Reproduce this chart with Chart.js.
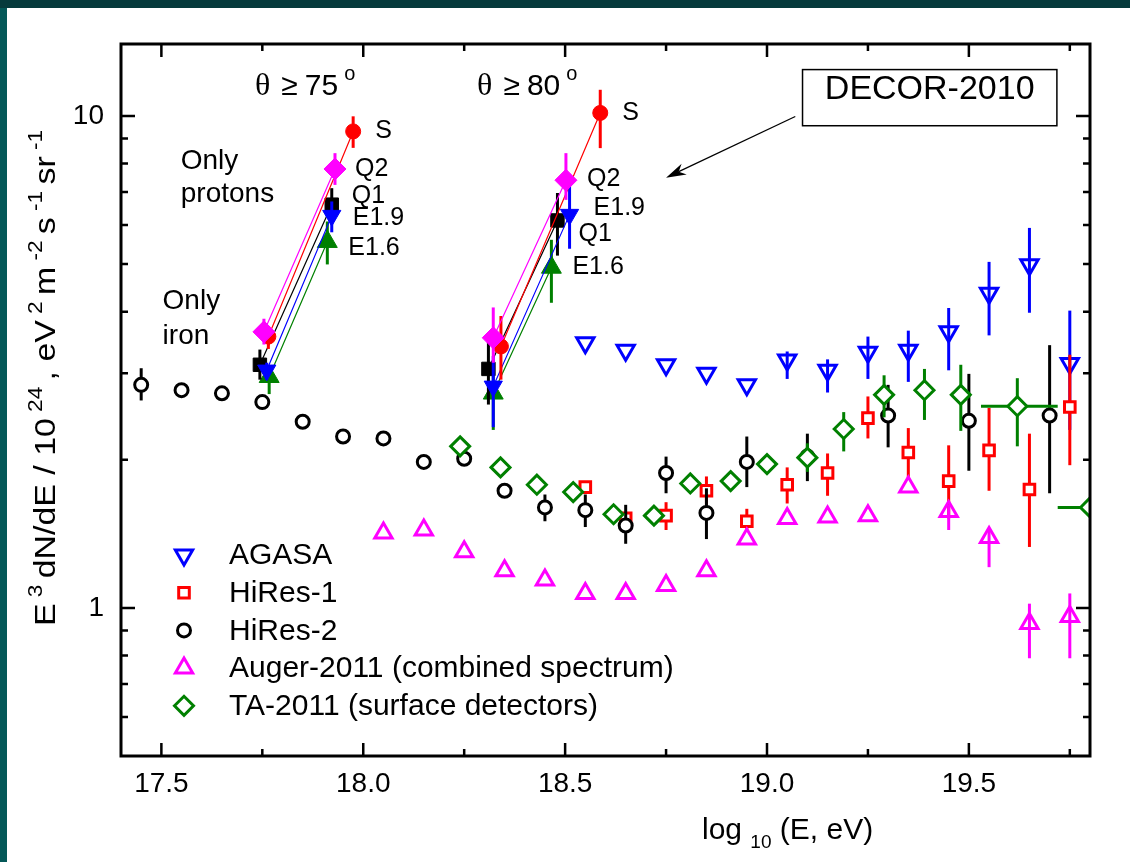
<!DOCTYPE html>
<html>
<head>
<meta charset="utf-8">
<script src="https://cdn.jsdelivr.net/npm/chart.js@4.4.0/dist/chart.umd.min.js"></script>
<style>
  html, body { margin: 0; padding: 0; }
  body { width: 1130px; height: 862px; background: #063a3c; position: relative; overflow: hidden; }
  #edge { position: absolute; left: 0; top: 8px; width: 7px; height: 854px; background: #045858; }
  #wrap { position: absolute; left: 7px; top: 8px; width: 1123px; height: 854px; background: #fff; }
</style>
</head>
<body>
<div id="edge"></div>
<div id="wrap"><canvas id="myChart" width="1123" height="854"></canvas></div>
<script>
const FONT = "'Liberation Sans', Arial, Helvetica, sans-serif";
const SERIF = "'Liberation Serif', 'Times New Roman', serif";

// axes
const xMin = 17.4, xMax = 19.8, yMin = 0.5, yMax = 14;
const xMajor = [17.5, 18.0, 18.5, 19.0, 19.5];
const xMinor = [17.75, 18.25, 18.75, 19.25, 19.75];
const yMajor = [1, 10];
const yMinor = [0.6, 0.7, 0.8, 0.9, 2, 3, 4, 5, 6, 7, 8, 9];

// AGASA
const agasaX = [18.55, 18.65, 18.75, 18.85, 18.95, 19.05, 19.15, 19.25, 19.35, 19.45, 19.55, 19.65, 19.75];
const agasaY = [3.46, 3.34, 3.12, 3.00, 2.84, 3.19, 3.04, 3.31, 3.34, 3.64, 4.36, 4.98, 3.14];
const agasaLo = [null, null, null, null, null, 2.92, 2.74, 2.92, 2.88, 3.04, 3.58, 3.98, 2.30];
const agasaHi = [null, null, null, null, null, 3.32, 3.20, 3.56, 3.66, 4.07, 5.05, 5.92, 4.02];

// HiRes-1
const hires1X = [18.55, 18.65, 18.75, 18.85, 18.95, 19.05, 19.15, 19.25, 19.35, 19.45, 19.55, 19.65, 19.75];
const hires1Y = [1.76, 1.52, 1.54, 1.73, 1.50, 1.78, 1.88, 2.43, 2.07, 1.81, 2.09, 1.74, 2.56];
const hires1Lo = [null, null, 1.44, 1.62, 1.44, 1.63, 1.69, 2.21, 1.82, 1.52, 1.73, 1.33, 1.95];
const hires1Hi = [null, null, 1.64, 1.85, 1.59, 1.93, 2.06, 2.69, 2.32, 2.14, 2.55, 2.26, 3.27];

// HiRes-2
const hires2X = [17.45, 17.55, 17.65, 17.75, 17.85, 17.95, 18.05, 18.15, 18.25, 18.35, 18.45, 18.55, 18.65, 18.75, 18.85, 18.95, 19.10, 19.30, 19.50, 19.70];
const hires2Y = [2.84, 2.77, 2.73, 2.62, 2.39, 2.23, 2.21, 1.98, 2.01, 1.73, 1.60, 1.58, 1.47, 1.88, 1.56, 1.98, 2.03, 2.46, 2.40, 2.46];
const hires2Lo = [2.64, null, null, null, null, null, null, null, null, null, 1.50, 1.46, 1.35, 1.71, 1.38, 1.76, 1.81, 2.12, 1.90, 1.71];
const hires2Hi = [3.07, null, null, null, null, null, null, null, null, null, 1.70, 1.70, 1.62, 2.03, 1.75, 2.23, 2.26, 2.84, 2.99, 3.42];

// Auger-2011
const augerX = [18.05, 18.15, 18.25, 18.35, 18.45, 18.55, 18.65, 18.75, 18.85, 18.95, 19.05, 19.15, 19.25, 19.35, 19.45, 19.55, 19.65, 19.75];
const augerY = [1.42, 1.44, 1.30, 1.19, 1.14, 1.07, 1.07, 1.11, 1.19, 1.38, 1.52, 1.53, 1.54, 1.76, 1.57, 1.39, 0.93, 0.96];
const augerLo = [null, null, null, null, null, null, null, null, null, null, null, null, null, null, 1.44, 1.21, 0.79, 0.79];
const augerHi = [null, null, null, null, null, null, null, null, null, null, null, null, null, null, 1.62, 1.45, 1.02, 1.07];

// TA-2011
const taX = [18.24, 18.34, 18.43, 18.52, 18.62, 18.72, 18.81, 18.91, 19.00, 19.10, 19.19, 19.29, 19.39, 19.48, 19.62, 19.80];
const taY = [2.13, 1.93, 1.78, 1.72, 1.55, 1.54, 1.79, 1.81, 1.96, 2.02, 2.31, 2.71, 2.77, 2.71, 2.57, 1.60];
const taLo = [null, null, null, null, null, null, null, null, null, 1.89, 2.08, 2.44, 2.41, 2.29, 2.13, null];
const taHi = [null, null, null, null, null, null, null, null, null, 2.16, 2.50, 2.97, 3.06, 3.12, 2.93, null];
const taXLo = [null, null, null, null, null, null, null, null, null, null, null, null, null, null, 19.53, 19.72];
const taXHi = [null, null, null, null, null, null, null, null, null, null, null, null, null, null, 19.72, 19.88];

// DECOR-2010: [iron 75, protons 75, iron 80, protons 80]
const sX = [17.765, 17.975, 18.341, 18.587];
const sY = [3.56, 9.30, 3.40, 10.14];
const sLo = [3.36, 8.61, 2.91, 8.60];
const sHi = [3.74, 9.98, 3.92, 11.3];

const q2X = [17.754, 17.930, 18.322, 18.502];
const q2Y = [3.64, 7.80, 3.54, 7.40];
const q2Lo = [3.43, 7.24, 3.15, 6.75];
const q2Hi = [3.87, 8.40, 4.08, 8.40];

const q1X = [17.744, 17.922, 18.310, 18.481];
const q1Y = [3.12, 6.60, 3.06, 6.13];
const q1Lo = [2.91, 6.15, 2.59, 5.20];
const q1Hi = [3.35, 7.13, 3.51, 6.97];

const e19X = [17.761, 17.922, 18.322, 18.511];
const e19Y = [3.04, 6.27, 2.82, 6.30];
const e19Lo = [2.91, 5.80, 2.33, 5.37];
const e19Hi = [3.15, 6.70, 3.25, 7.24];

const e16X = [17.767, 17.911, 18.322, 18.466];
const e16Y = [2.95, 5.55, 2.73, 4.92];
const e16Lo = [2.72, 4.99, 2.30, 4.17];
const e16Hi = [3.10, 6.10, 2.96, 5.60];

function pts(xs, ys) {
  return xs.map((x, i) => ({ x: x, y: ys[i] }));
}
// break the line between the 75 and 80 degree groups
function gapped(a) {
  return [a[0], a[1], null, a[2], a[3]];
}
function decorPts(xs, ys) {
  const p = pts(xs, ys);
  return [p[0], p[1], { x: xs[1], y: null }, p[2], p[3]];
}

function openSet(label, color, data, lo, hi, style, radius, rotation, fill, order) {
  return {
    label: label,
    data: data,
    errLo: lo,
    errHi: hi,
    pointStyle: style,
    pointRadius: radius,
    pointRotation: rotation,
    pointBorderWidth: 3,
    pointBorderColor: color,
    pointBackgroundColor: fill,
    pointHoverRadius: radius,
    order: order
  };
}

function decorSet(name, color, xs, ys, lo, hi, style, radius, rotation, order, offsets) {
  return {
    label: name,
    decor: true,
    tag: name,
    tagOffsets: offsets,
    data: decorPts(xs, ys),
    errLo: gapped(lo),
    errHi: gapped(hi),
    showLine: true,
    spanGaps: false,
    borderColor: color,
    borderWidth: 1.2,
    pointStyle: style,
    pointRadius: radius,
    pointRotation: rotation,
    pointBorderWidth: 1,
    pointBorderColor: color,
    pointBackgroundColor: color,
    pointHoverRadius: radius,
    order: order
  };
}

const ta = openSet('TA-2011 (surface detectors)', '#008000', pts(taX, taY), taLo, taHi, 'rectRot', 9.5, 0, '#fff', 5);
ta.errXLo = taXLo;
ta.errXHi = taXHi;

// tag offsets in px: [75 deg group, 80 deg group]
const datasets = [
  openSet('AGASA', '#0000ff', pts(agasaX, agasaY), agasaLo, agasaHi, 'triangle', 10, 180, 'rgba(0,0,0,0)', 9),
  openSet('HiRes-1', '#ff0000', pts(hires1X, hires1Y), hires1Lo, hires1Hi, 'rect', 7.5, 0, '#fff', 8),
  openSet('HiRes-2', '#000000', pts(hires2X, hires2Y), hires2Lo, hires2Hi, 'circle', 6.5, 0, '#fff', 7),
  openSet('Auger-2011 (combined spectrum)', '#ff00ff', pts(augerX, augerY), augerLo, augerHi, 'triangle', 10, 0, 'rgba(0,0,0,0)', 6),
  ta,
  decorSet('S', '#ff0000', sX, sY, sLo, sHi, 'circle', 7.5, 0, 1, [[22, 0], [22, 0]]),
  decorSet('Q2', '#ff00ff', q2X, q2Y, q2Lo, q2Hi, 'rectRot', 11, 0, 0, [[20, 0], [21, -1]]),
  decorSet('Q1', '#000000', q1X, q1Y, q1Lo, q1Hi, 'rect', 9.5, 0, 3, [[20, -9], [21, 14]]),
  decorSet('E1.9', '#0000ff', e19X, e19Y, e19Lo, e19Hi, 'triangle', 10.5, 180, 2, [[21, 2], [24, -7]]),
  decorSet('E1.6', '#008000', e16X, e16Y, e16Lo, e16Hi, 'triangle', 11.5, 0, 4, [[21, 6], [21, 0]])
];

// error bars drawn just before each dataset so markers sit on top
const errorBars = {
  id: 'errorBars',
  beforeDatasetDraw(chart, args) {
    const ds = chart.data.datasets[args.index];
    if (!ds.errLo) return;
    const ctx = chart.ctx, a = chart.chartArea;
    const xs = chart.scales.x, ys = chart.scales.y;
    ctx.save();
    ctx.beginPath();
    ctx.rect(a.left, a.top, a.right - a.left, a.bottom - a.top);
    ctx.clip();
    ctx.strokeStyle = ds.pointBorderColor;
    ctx.lineWidth = 3;
    ds.data.forEach((p, i) => {
      if (p.y == null) return;
      const px = xs.getPixelForValue(p.x);
      const py = ys.getPixelForValue(p.y);
      if (ds.errLo[i] != null) {
        ctx.beginPath();
        ctx.moveTo(px, ys.getPixelForValue(ds.errLo[i]));
        ctx.lineTo(px, ys.getPixelForValue(ds.errHi[i]));
        ctx.stroke();
      }
      if (ds.errXLo && ds.errXLo[i] != null) {
        ctx.beginPath();
        ctx.moveTo(xs.getPixelForValue(ds.errXLo[i]), py);
        ctx.lineTo(xs.getPixelForValue(ds.errXHi[i]), py);
        ctx.stroke();
      }
    });
    ctx.restore();
  }
};

function rich(ctx, parts, x, y) {
  let cx = x;
  parts.forEach(p => {
    ctx.font = p.size + 'px ' + FONT;
    ctx.fillText(p.t, cx, y + (p.dy || 0));
    cx += ctx.measureText(p.t).width;
  });
  return cx - x;
}
function richWidth(ctx, parts) {
  let w = 0;
  parts.forEach(p => {
    ctx.font = p.size + 'px ' + FONT;
    w += ctx.measureText(p.t).width;
  });
  return w;
}

const yTitle = [
  { t: 'E', size: 30 }, { t: ' 3 ', size: 20, dy: -13 }, { t: 'dN/dE / 10', size: 30 }, { t: ' 24 ', size: 20, dy: -13 },
  { t: ', eV', size: 30 }, { t: ' 2 ', size: 20, dy: -13 }, { t: 'm', size: 30 }, { t: ' -2 ', size: 20, dy: -13 },
  { t: 's', size: 30 }, { t: ' -1 ', size: 20, dy: -13 }, { t: 'sr', size: 30 }, { t: ' -1', size: 20, dy: -13 }
];
const xTitle = [{ t: 'log ', size: 30 }, { t: '10', size: 19, dy: 9 }, { t: ' (E, eV)', size: 30 }];

function drawTheta(ctx, x, y, deg) {
  const base = y + 12;
  let cx = x;
  ctx.textBaseline = 'alphabetic';
  ctx.font = '32px ' + SERIF;
  ctx.fillText('θ', cx, base);
  cx += ctx.measureText('θ').width + 11;
  ctx.font = '30px ' + FONT;
  ctx.fillText('≥', cx, base);
  cx += ctx.measureText('≥').width + 7;
  ctx.fillText(deg, cx, base);
  cx += ctx.measureText(deg).width + 6;
  ctx.font = '20px ' + FONT;
  ctx.fillText('o', cx, base - 15);
}

const frame = {
  id: 'frame',
  afterDatasetsDraw(chart) {
    const ctx = chart.ctx, a = chart.chartArea;
    const xs = chart.scales.x, ys = chart.scales.y;
    const X = v => xs.getPixelForValue(v);
    const Y = v => ys.getPixelForValue(v);
    ctx.save();
    ctx.strokeStyle = '#000';
    ctx.fillStyle = '#000';

    // axes box with inward ticks on all four sides
    ctx.lineWidth = 3;
    ctx.strokeRect(a.left, a.top, a.right - a.left, a.bottom - a.top);
    ctx.lineWidth = 2.5;
    const xt = (v, len) => {
      const px = X(v);
      ctx.beginPath();
      ctx.moveTo(px, a.bottom); ctx.lineTo(px, a.bottom - len);
      ctx.moveTo(px, a.top); ctx.lineTo(px, a.top + len);
      ctx.stroke();
    };
    const yt = (v, len) => {
      const py = Y(v);
      ctx.beginPath();
      ctx.moveTo(a.left, py); ctx.lineTo(a.left + len, py);
      ctx.moveTo(a.right, py); ctx.lineTo(a.right - len, py);
      ctx.stroke();
    };
    xMajor.forEach(v => xt(v, 13));
    xMinor.forEach(v => xt(v, 7));
    yMajor.forEach(v => yt(v, 14));
    yMinor.forEach(v => yt(v, 7));

    // DECOR point tags
    ctx.font = '25px ' + FONT;
    ctx.textBaseline = 'middle';
    ctx.textAlign = 'left';
    chart.data.datasets.forEach(ds => {
      if (!ds.decor) return;
      [1, 4].forEach((idx, g) => {
        const p = ds.data[idx];
        ctx.fillText(ds.tag, X(p.x) + ds.tagOffsets[g][0], Y(p.y) + ds.tagOffsets[g][1]);
      });
    });

    // notes
    ctx.font = '28px ' + FONT;
    ctx.fillText('Only', X(17.548), Y(8.07));
    ctx.fillText('protons', X(17.548), Y(6.92));
    ctx.fillText('Only', X(17.503), Y(4.19));
    ctx.fillText('iron', X(17.503), Y(3.56));
    drawTheta(ctx, X(17.732), Y(11.69), '75');
    drawTheta(ctx, X(18.282), Y(11.69), '80');

    // DECOR-2010 box and arrow
    const bx0 = X(19.088), bx1 = X(19.718), by0 = Y(12.42), by1 = Y(9.55);
    ctx.lineWidth = 1.5;
    ctx.fillStyle = '#fff';
    ctx.fillRect(bx0, by0, bx1 - bx0, by1 - by0);
    ctx.strokeRect(bx0, by0, bx1 - bx0, by1 - by0);
    ctx.fillStyle = '#000';
    ctx.font = '34px ' + FONT;
    ctx.textAlign = 'center';
    ctx.fillText('DECOR-2010', (bx0 + bx1) / 2, (by0 + by1) / 2 + 1);
    ctx.textAlign = 'left';

    const ax0 = X(19.070), ay0 = Y(9.97), ax1 = X(18.750), ay1 = Y(7.49);
    const ang = Math.atan2(ay1 - ay0, ax1 - ax0);
    ctx.lineWidth = 1.3;
    ctx.beginPath();
    ctx.moveTo(ax0, ay0);
    ctx.lineTo(ax1 - 14 * Math.cos(ang), ay1 - 14 * Math.sin(ang));
    ctx.stroke();
    ctx.beginPath();
    ctx.moveTo(ax1, ay1);
    ctx.lineTo(ax1 - 20 * Math.cos(ang) + 6 * Math.sin(ang), ay1 - 20 * Math.sin(ang) - 6 * Math.cos(ang));
    ctx.lineTo(ax1 - 14 * Math.cos(ang), ay1 - 14 * Math.sin(ang));
    ctx.lineTo(ax1 - 20 * Math.cos(ang) - 6 * Math.sin(ang), ay1 - 20 * Math.sin(ang) + 6 * Math.cos(ang));
    ctx.closePath();
    ctx.fill();

    // legend
    const lx = a.left + 63, tx = a.left + 108;
    ctx.font = '30px ' + FONT;
    ctx.textBaseline = 'middle';
    chart.data.datasets.slice(0, 5).forEach((ds, i) => {
      const ly = a.top + 511 + i * 37.7;
      ctx.fillStyle = ds.pointBackgroundColor;
      ctx.strokeStyle = ds.pointBorderColor;
      ctx.lineWidth = ds.pointBorderWidth;
      Chart.helpers.drawPoint(ctx, {
        pointStyle: ds.pointStyle,
        radius: ds.pointRadius,
        rotation: ds.pointRotation,
        borderWidth: ds.pointBorderWidth
      }, lx, ly);
      ctx.fillStyle = '#000';
      ctx.font = '30px ' + FONT;
      ctx.fillText(ds.label, tx, ly + 1);
    });

    // axis titles
    ctx.fillStyle = '#000';
    ctx.textBaseline = 'alphabetic';
    rich(ctx, xTitle, a.left + 581, a.bottom + 83);
    ctx.translate(48, a.top + 334);
    ctx.rotate(-Math.PI / 2);
    ctx.scale(1.13, 1);
    rich(ctx, yTitle, -richWidth(ctx, yTitle) / 2, 0);
    ctx.restore();
  }
};

Chart.defaults.font.family = FONT;
Chart.defaults.color = '#000';

const config = {
  type: 'scatter',
  data: { datasets: datasets },
  options: {
    responsive: false,
    animation: false,
    devicePixelRatio: 1,
    layout: { padding: { left: 0, top: 36, right: 40, bottom: 0 } },
    plugins: {
      legend: { display: false },
      tooltip: { enabled: false }
    },
    scales: {
      x: {
        type: 'linear',
        min: xMin,
        max: xMax,
        bounds: 'data',
        grid: { display: false, drawTicks: false },
        border: { display: false },
        afterBuildTicks: (s) => { s.ticks = xMajor.map(v => ({ value: v })); },
        afterFit: (s) => { s.height = 106; },
        ticks: {
          padding: 11,
          color: '#000',
          font: { size: 28 },
          maxRotation: 0,
          autoSkip: false,
          callback: (v) => Number(v).toFixed(1)
        }
      },
      y: {
        type: 'logarithmic',
        min: yMin,
        max: yMax,
        bounds: 'data',
        grid: { display: false, drawTicks: false },
        border: { display: false },
        afterBuildTicks: (s) => { s.ticks = yMajor.map(v => ({ value: v })); },
        afterFit: (s) => { s.width = 114; },
        ticks: {
          padding: 17,
          color: '#000',
          font: { size: 28 },
          autoSkip: false,
          callback: (v) => String(v)
        }
      }
    }
  },
  plugins: [errorBars, frame]
};

const myChart = new Chart(document.getElementById('myChart'), config);
</script>
</body>
</html>
